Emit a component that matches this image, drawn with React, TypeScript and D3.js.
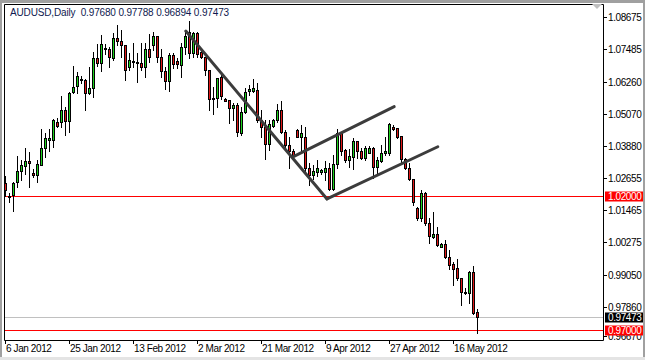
import React from "react";
import * as d3 from "d3";

// ---- data (AUDUSD daily, bar index 0 = 6 Jan 2012) ----
const openP = [
  1.0250, 1.0197, 1.0203, 1.0251, 1.0294, 1.0313, 1.0332, 1.0287, 1.0277, 1.0317,
  1.0381, 1.0411, 1.0411, 1.0475, 1.0478, 1.0523, 1.0479, 1.0589, 1.0611, 1.0632,
  1.0632, 1.0584, 1.0603, 1.0715, 1.0698, 1.0751, 1.0748, 1.0715, 1.0789, 1.0780,
  1.0763, 1.0683, 1.0701, 1.0701, 1.0696, 1.0681, 1.0748, 1.0765, 1.0798, 1.0719,
  1.0668, 1.0629, 1.0725, 1.0706, 1.0690, 1.0755, 1.0811, 1.0736, 1.0808, 1.0739,
  1.0719, 1.0671, 1.0566, 1.0565, 1.0643, 1.0562, 1.0559, 1.0527, 1.0539, 1.0436,
  1.0515, 1.0591, 1.0594, 1.0596, 1.0484, 1.0459, 1.0396, 1.0462, 1.0484, 1.0523,
  1.0440, 1.0390, 1.0369, 1.0447, 1.0421, 1.0421, 1.0303, 1.0278, 1.0288, 1.0289,
  1.0288, 1.0306, 1.0225, 1.0319, 1.0434, 1.0371, 1.0334, 1.0347, 1.0405, 1.0367,
  1.0341, 1.0362, 1.0381, 1.0307, 1.0332, 1.0359, 1.0361, 1.0459, 1.0453, 1.0424,
  1.0337, 1.0303, 1.0262, 1.0154, 1.0116, 1.0212, 1.0098, 1.0048, 1.0057, 1.0011,
  1.0019, 0.9974, 0.9945, 0.9930, 0.9892, 0.9837, 0.9837, 0.9915, 0.97680,
];
const highP = [
  1.0274, 1.0212, 1.0254, 1.0349, 1.0334, 1.0379, 1.0366, 1.0299, 1.0334, 1.0451,
  1.0436, 1.0449, 1.0489, 1.0492, 1.0574, 1.0531, 1.0590, 1.0687, 1.0665, 1.0649,
  1.0637, 1.0683, 1.0739, 1.0768, 1.0801, 1.0768, 1.0758, 1.0808, 1.0840, 1.0821,
  1.0764, 1.0733, 1.0773, 1.0733, 1.0770, 1.0770, 1.0805, 1.0811, 1.0799, 1.0748,
  1.0683, 1.0733, 1.0735, 1.0715, 1.0773, 1.0811, 1.0852, 1.0814, 1.0811, 1.0748,
  1.0719, 1.0671, 1.0609, 1.0640, 1.0652, 1.0565, 1.0559, 1.0546, 1.0546, 1.0533,
  1.0603, 1.0615, 1.0637, 1.0621, 1.0523, 1.0484, 1.0484, 1.0487, 1.0544, 1.0556,
  1.0447, 1.0421, 1.0377, 1.0449, 1.0465, 1.0457, 1.0324, 1.0316, 1.0334, 1.0302,
  1.0332, 1.0322, 1.0353, 1.0449, 1.0437, 1.0377, 1.0377, 1.0415, 1.0406, 1.0381,
  1.0386, 1.0386, 1.0384, 1.0347, 1.0390, 1.0421, 1.0474, 1.0465, 1.0455, 1.0424,
  1.0341, 1.0322, 1.0265, 1.0160, 1.0222, 1.0216, 1.0116, 1.0142, 1.0084, 1.0023,
  1.0036, 0.9999, 0.9955, 0.9964, 0.9892, 0.9855, 0.9919, 0.9939, 0.97788,
];
const lowP = [
  1.0200, 1.0178, 1.0145, 1.0235, 1.0260, 1.0284, 1.0232, 1.0272, 1.0252, 1.0314,
  1.0347, 1.0369, 1.0384, 1.0456, 1.0459, 1.0426, 1.0440, 1.0586, 1.0586, 1.0621,
  1.0523, 1.0581, 1.0569, 1.0686, 1.0668, 1.0729, 1.0681, 1.0708, 1.0763, 1.0721,
  1.0634, 1.0671, 1.0683, 1.0624, 1.0671, 1.0643, 1.0701, 1.0745, 1.0701, 1.0646,
  1.0601, 1.0594, 1.0678, 1.0677, 1.0646, 1.0729, 1.0714, 1.0721, 1.0721, 1.0715,
  1.0652, 1.0523, 1.0508, 1.0531, 1.0561, 1.0553, 1.0472, 1.0484, 1.0424, 1.0428,
  1.0511, 1.0578, 1.0590, 1.0478, 1.0419, 1.0337, 1.0371, 1.0459, 1.0478, 1.0434,
  1.0371, 1.0303, 1.0347, 1.0419, 1.0359, 1.0290, 1.0241, 1.0265, 1.0274, 1.0284,
  1.0259, 1.0222, 1.0222, 1.0303, 1.0353, 1.0328, 1.0309, 1.0301, 1.0341, 1.0339,
  1.0334, 1.0359, 1.0269, 1.0284, 1.0328, 1.0353, 1.0353, 1.0447, 1.0415, 1.0328,
  1.0299, 1.0259, 1.0167, 1.0110, 1.0108, 1.0091, 1.0023, 1.0042, 1.0014, 1.0008,
  0.9968, 0.9926, 0.9867, 0.9886, 0.9793, 0.9834, 0.9801, 0.9759, 0.96894,
];
const closeP = [
  1.0222, 1.0200, 1.0250, 1.0294, 1.0314, 1.0332, 1.0322, 1.0277, 1.0318, 1.0381,
  1.0415, 1.0416, 1.0484, 1.0463, 1.0523, 1.0479, 1.0586, 1.0606, 1.0647, 1.0638,
  1.0584, 1.0603, 1.0715, 1.0698, 1.0767, 1.0748, 1.0719, 1.0789, 1.0780, 1.0763,
  1.0669, 1.0708, 1.0706, 1.0696, 1.0681, 1.0748, 1.0719, 1.0798, 1.0719, 1.0668,
  1.0629, 1.0725, 1.0693, 1.0693, 1.0755, 1.0798, 1.0735, 1.0808, 1.0731, 1.0721,
  1.0671, 1.0561, 1.0561, 1.0640, 1.0574, 1.0556, 1.0527, 1.0539, 1.0438, 1.0515,
  1.0590, 1.0600, 1.0603, 1.0484, 1.0457, 1.0396, 1.0469, 1.0484, 1.0523, 1.0440,
  1.0390, 1.0369, 1.0350, 1.0421, 1.0437, 1.0303, 1.0278, 1.0292, 1.0303, 1.0297,
  1.0306, 1.0225, 1.0319, 1.0434, 1.0369, 1.0334, 1.0350, 1.0405, 1.0367, 1.0341,
  1.0380, 1.0381, 1.0307, 1.0334, 1.0361, 1.0367, 1.0469, 1.0452, 1.0421, 1.0337,
  1.0303, 1.0265, 1.0176, 1.0116, 1.0212, 1.0098, 1.0051, 1.0057, 1.0017, 1.0019,
  0.9971, 0.9943, 0.9927, 0.9892, 0.9843, 0.9843, 0.9915, 0.9764, 0.97473,
];

const priceTicks = [1.08675, 1.07485, 1.0626, 1.0507, 1.0388, 1.02655, 1.01465, 1.00275, 0.9905, 0.9786, 0.9667];
const dateTickIdx = [0, 16, 32, 48, 64, 80, 96, 112];
const dateTickLabels = ["6 Jan 2012", "25 Jan 2012", "13 Feb 2012", "2 Mar 2012", "21 Mar 2012", "9 Apr 2012", "27 Apr 2012", "16 May 2012"];

const trendStartIdx = [45.2, 80.5, 72.1];
const trendStartPrice = [1.0816, 1.0189, 1.0347];
const trendEndIdx = [80.5, 108.2, 97.3];
const trendEndPrice = [1.0189, 1.0384, 1.0534];

const redLevels = [1.02, 0.97];
const bidPrice = 0.97473;
const titleText = "AUDUSD,Daily  0.97680 0.97788 0.96894 0.97473";

// ---- layout ----
const W = 645, H = 360;
const L = 4, R = 603, T = 4, B = 340;
const BULL = "#1ed21e", BEAR = "#e01818";
const FONT = "'Liberation Sans', Arial, sans-serif";

export default function App() {
  const x = d3.scaleLinear().domain([0, 118]).range([5, 477]);
  const y = d3.scaleLinear().domain([0.9667, 1.08675]).range([338.7, 17.3]);
  const X = (i: number) => Math.round(x(i));
  const Y = (p: number) => Math.round(y(p));

  const candles = openP.map((o, i) => {
    const c = closeP[i], h = highP[i], l = lowP[i];
    const cx = X(i);
    const yt = Y(Math.max(o, c)), yb = Y(Math.min(o, c));
    const up = c >= o;
    return (
      <g key={i}>
        <line x1={cx + 0.5} x2={cx + 0.5} y1={Y(h)} y2={Y(l) + 1} stroke="#000" strokeWidth={1} />
        {yb - yt >= 2 ? (
          <rect x={cx - 0.5} y={yt + 0.5} width={2} height={yb - yt} fill={up ? BULL : BEAR} stroke="#000" strokeWidth={1} />
        ) : (
          <rect x={cx - 1} y={yt} width={3} height={Math.max(1, yb - yt + 1)} fill="#000" />
        )}
      </g>
    );
  });

  return (
    <svg width={W} height={H} style={{ position: "absolute", left: 0, top: 0 }} fontFamily={FONT}>
      <rect x={0} y={0} width={W} height={H} fill="#fff" />
      {/* window frame */}
      <rect x={0} y={0} width={W} height={3} fill="#a0a0a0" />
      <rect x={0} y={0} width={2} height={H} fill="#a0a0a0" />
      <rect x={W - 2} y={0} width={2} height={H} fill="#a0a0a0" />
      <rect x={0} y={H - 3} width={W} height={3} fill="#e4e4e4" />
      {/* chart frame */}
      <path d={`M${L + 0.5},${B + 0.5}V${T + 0.5}H${R + 0.5}V${B + 0.5}H${L + 0.5}`} fill="none" stroke="#000" />

      {/* horizontal levels */}
      {redLevels.map((p, k) => (
        <line key={k} x1={L + 1} x2={R} y1={Y(p) + 0.5} y2={Y(p) + 0.5} stroke="#ff0000" />
      ))}
      <line x1={L + 1} x2={R} y1={Y(bidPrice) + 0.5} y2={Y(bidPrice) + 0.5} stroke="#c0c0c0" />

      {candles}

      {/* trend lines */}
      {trendStartIdx.map((i0, k) => (
        <line key={k} x1={x(i0)} y1={y(trendStartPrice[k])} x2={x(trendEndIdx[k])} y2={y(trendEndPrice[k])}
          stroke="#3c3c3c" strokeWidth={3} strokeLinecap="round" />
      ))}

      {/* title */}
      <text x={10} y={16} fontSize={10} fill="#0f1a50" letterSpacing={-0.15} style={{ whiteSpace: "pre" }}>{titleText}</text>

      {/* price axis */}
      {priceTicks.map((p, k) => {
        const yy = Math.min(Y(p), 336);
        return (
          <g key={k}>
            <line x1={R + 1} x2={R + 4} y1={yy + 0.5} y2={yy + 0.5} stroke="#000" />
            <text x={608} y={yy + 4} fontSize={10} fill="#000" letterSpacing={-0.4}>{p.toFixed(5)}</text>
          </g>
        );
      })}
      {[...redLevels.map((p) => ({ p, bg: "#ff0000" })), { p: bidPrice, bg: "#000000" }].map((d, k) => {
        const yy = Y(d.p);
        return (
          <g key={"tag" + k}>
            <rect x={605} y={yy - 4.5} width={38} height={10} fill={d.bg} />
            <text x={608} y={yy + 4} fontSize={10} fill="#fff" letterSpacing={-0.4}>{d.p.toFixed(5)}</text>
          </g>
        );
      })}

      {/* date axis */}
      {dateTickIdx.map((i, k) => (
        <g key={k}>
          <line x1={X(i) + 0.5} x2={X(i) + 0.5} y1={B + 1} y2={B + 4} stroke="#000" />
          <text x={X(i) + 1} y={352} fontSize={10} fill="#000" letterSpacing={-0.4}>{dateTickLabels[k]}</text>
        </g>
      ))}

      {/* chart shift marker */}
      <path d="M592,4 L602,4 L597,9 Z" fill="#c0c0c0" />
    </svg>
  );
}
